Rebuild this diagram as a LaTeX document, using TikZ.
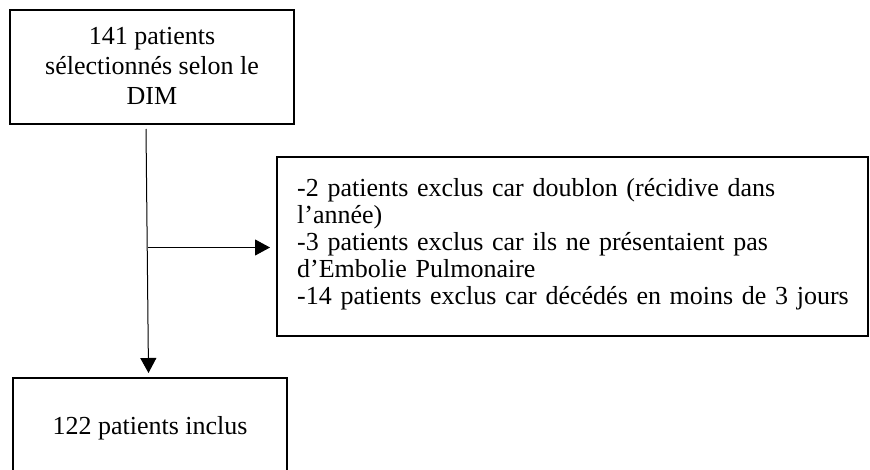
\documentclass[tikz,border=0pt]{standalone}
\usepackage{fontspec}
\setmainfont{Liberation Serif}
\usetikzlibrary{arrows.meta}
\lineskiplimit=-100pt\relax
\begin{document}
\begin{tikzpicture}[x=1pt,y=-1pt,
  box/.style={draw, line width=2.5pt, inner sep=0pt},
  txt/.style={inner sep=0pt, font=\fontsize{26}{27}\selectfont},
  arr/.style={line width=1pt, -{Triangle[length=15pt,width=16pt]}}]
\useasboundingbox (0,0) rectangle (870,470);
\node[box, minimum width=284pt, minimum height=114pt] (top) at (152,67) {};
\node[txt, align=center, font=\fontsize{26}{30}\selectfont, anchor=base]
  (toptxt) at (152,105) {141 patients\\sélectionnés selon le\\DIM};
\node[box, minimum width=591pt, minimum height=179pt] (excl) at (572.5,246.5) {};
\node[txt, anchor=base west, align=left, text width=560pt] (excltxt) at (297,197)
  {-2 patients exclus car doublon (récidive dans\\l’année)\\-3 patients exclus car ils ne présentaient pas\\d’Embolie Pulmonaire\\-14 patients exclus car décédés en moins de 3 jours};
\node[box, minimum width=274pt, minimum height=100pt,
  font=\fontsize{26}{29.5}\selectfont] (incl) at (150,428) {122 patients inclus};
\coordinate (vtop) at (146,129);
\coordinate (vtip) at (148.5,373);
\draw[arr] (vtop) -- (vtip);
\coordinate (hstart) at (148,247.5);
\coordinate (htip) at (270,247.5);
\draw[arr] (hstart) -- (htip);
\end{tikzpicture}
\end{document}
